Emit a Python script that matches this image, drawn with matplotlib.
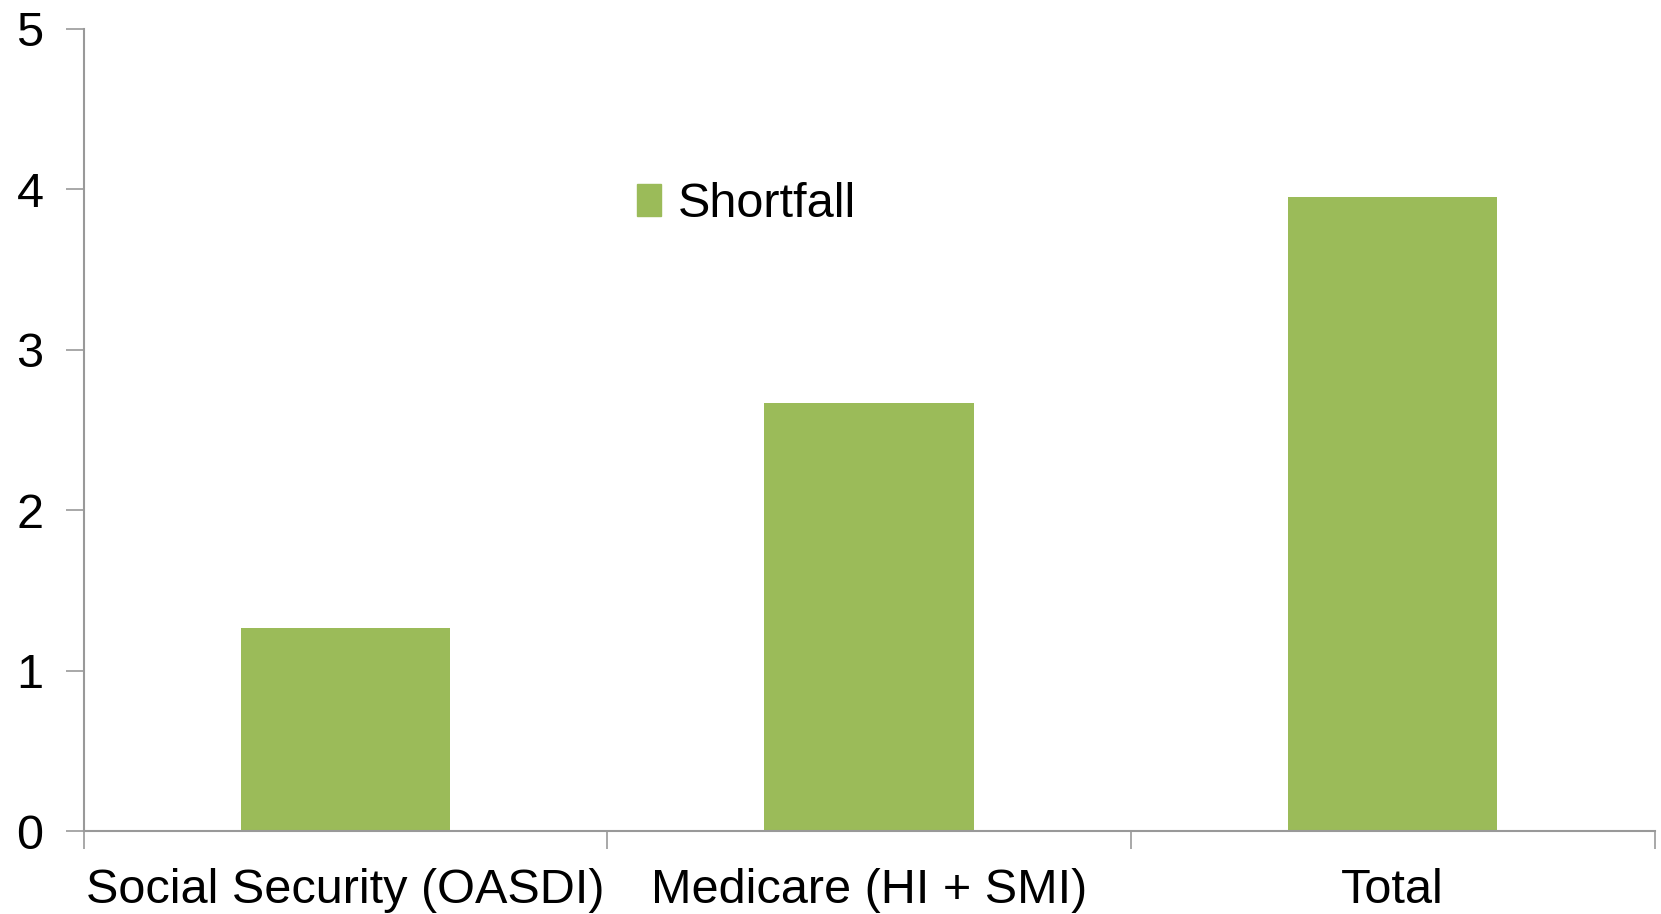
import matplotlib
matplotlib.use("Agg")
import matplotlib.pyplot as plt
from matplotlib.patches import Patch

categories = ["Social Security (OASDI)", "Medicare (HI + SMI)", "Total"]
shortfall = [1.27, 2.67, 3.95]
yticks = [0, 1, 2, 3, 4, 5]

plt.rcParams['font.family'] = ['Liberation Sans', 'DejaVu Sans']

fig = plt.figure(figsize=(16.61, 9.14), dpi=100)
ax = fig.add_axes([0.0504, 0.0903, 0.9457, 0.8784])

bar_color = "#9BBB59"
x = list(range(len(categories)))
ax.bar(x, shortfall, width=0.4, color=bar_color, label="Shortfall")

ax.set_xlim(-0.5, len(categories) - 0.5)
ax.set_ylim(0, 5)
ax.set_yticks(yticks)
ax.set_yticklabels([str(v) for v in yticks])

# category boundary ticks
ax.set_xticks([i - 0.5 for i in range(len(categories) + 1)])
ax.set_xticklabels([])
ax.set_xticks(x, minor=True)
ax.set_xticklabels(categories, minor=True)
ax.tick_params(axis='x', which='minor', length=0, labelsize=35, pad=26)
ax.tick_params(axis='x', which='major', length=13, width=1.2, color="#999999", direction='out')
ax.tick_params(axis='y', length=13, width=1.2, color="#999999", labelsize=35, pad=16)

for s in ["top", "right"]:
    ax.spines[s].set_visible(False)
for s in ["left", "bottom"]:
    ax.spines[s].set_color("#999999")
    ax.spines[s].set_linewidth(1.5)

ax.legend(handles=[Patch(color=bar_color, label="Shortfall")], loc="center",
          bbox_to_anchor=(0.422, 0.781), frameon=False, fontsize=35,
          handlelength=0.5, handleheight=0.65, handletextpad=0.35)

fig.savefig("out.png", dpi=100, facecolor="white")
